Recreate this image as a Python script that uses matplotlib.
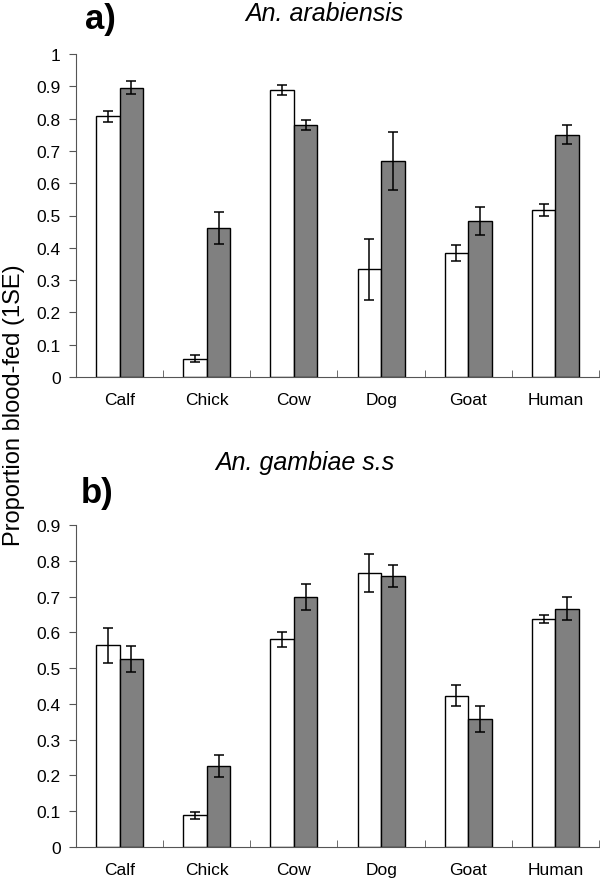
import matplotlib
matplotlib.use("Agg")
import matplotlib.pyplot as plt
import numpy as np

plt.rcParams['font.family'] = ['Liberation Sans', 'DejaVu Sans']

hosts = ["Calf", "Chick", "Cow", "Dog", "Goat", "Human"]

# a) An. arabiensis
arab_white = [0.807, 0.057, 0.889, 0.333, 0.385, 0.518]
arab_white_se = [0.018, 0.012, 0.015, 0.095, 0.025, 0.018]
arab_grey = [0.896, 0.461, 0.781, 0.668, 0.483, 0.750]
arab_grey_se = [0.019, 0.050, 0.016, 0.090, 0.043, 0.029]

# b) An. gambiae s.s
gamb_white = [0.564, 0.089, 0.580, 0.766, 0.423, 0.637]
gamb_white_se = [0.049, 0.010, 0.020, 0.053, 0.029, 0.012]
gamb_grey = [0.525, 0.226, 0.698, 0.757, 0.358, 0.666]
gamb_grey_se = [0.037, 0.030, 0.036, 0.030, 0.036, 0.032]

fig = plt.figure(figsize=(6, 8.79), dpi=100)
W, H = 600, 879

def make_ax(top, bottom):
    return fig.add_axes([76 / W, 1 - bottom / H, 523 / W, (bottom - top) / H])

def draw(ax, white, wse, grey, gse, ymax):
    x = np.arange(len(hosts))
    w = 0.27
    ekw = dict(ecolor="black", elinewidth=1.1, capsize=3.5, capthick=1.1)
    ax.bar(x - w / 2, white, w, yerr=wse, color="white", edgecolor="black",
           linewidth=1.0, error_kw=ekw)
    ax.bar(x + w / 2, grey, w, yerr=gse, color="#808080", edgecolor="black",
           linewidth=1.0, error_kw=ekw)
    ax.set_xlim(-0.5, 5.5)
    ax.set_ylim(0, ymax)
    ticks = np.round(np.arange(0, ymax + 0.001, 0.1), 1)
    ax.set_yticks(ticks)
    ax.set_yticklabels(["0" if t == 0 else ("1" if t == 1 else "%.1f" % t) for t in ticks])
    ax.set_xticks(x)
    ax.set_xticklabels(hosts)
    ax.set_xticks(np.arange(-0.5, 5.6, 1.0), minor=True)
    ax.tick_params(axis="x", which="major", length=0, labelsize=12.5, pad=11)
    ax.tick_params(axis="x", which="minor", direction="in", length=5, color="#555555")
    ax.tick_params(axis="y", direction="out", length=5, labelsize=12.5, pad=6,
                   color="#555555")
    for s in ["top", "right"]:
        ax.spines[s].set_visible(False)
    ax.spines["left"].set_color("#555555")
    ax.spines["bottom"].set_color("#555555")

ax1 = make_ax(55, 378)
draw(ax1, arab_white, arab_white_se, arab_grey, arab_grey_se, 1.0)
ax2 = make_ax(526, 848)
draw(ax2, gamb_white, gamb_white_se, gamb_grey, gamb_grey_se, 0.9)

fig.text(324 / W, 1 - 14 / H, "An. arabiensis", style="italic", fontsize=18,
         ha="center", va="center")
fig.text(100 / W, 1 - 20 / H, "a)", weight="bold", fontsize=25, ha="center", va="center")
fig.text(305 / W, 1 - 463 / H, "An. gambiae s.s", style="italic", fontsize=18,
         ha="center", va="center")
fig.text(97 / W, 1 - 493 / H, "b)", weight="bold", fontsize=25, ha="center", va="center")
fig.text(14 / W, 1 - 405 / H, "Proportion blood-fed (1SE)", rotation=90, fontsize=17,
         ha="center", va="center")

fig.savefig("out.png", dpi=100)
